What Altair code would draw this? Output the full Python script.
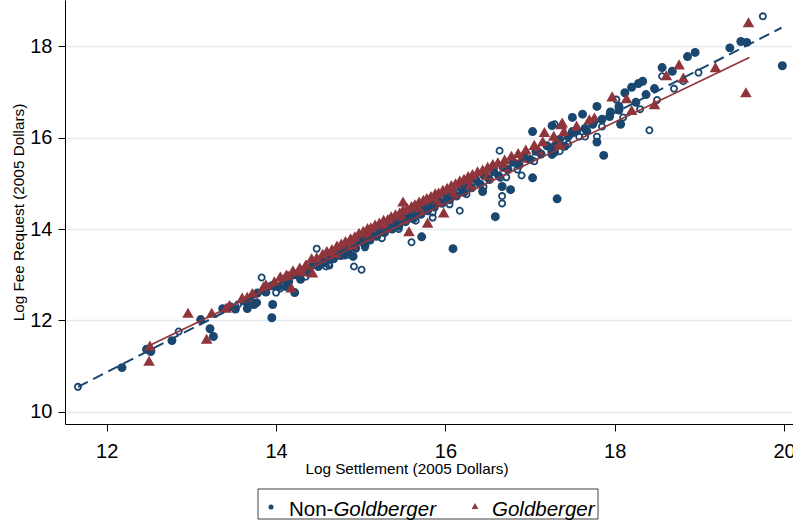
import altair as alt
import pandas as pd

NAVY = "#1a476f"
MAROON = "#90353b"

# ---------------- data ----------------
# Non-Goldberger, filled circles
nong_x = [12.18, 12.47, 12.52, 12.77, 13.11, 13.22, 13.26, 13.37, 13.46, 13.66, 13.74, 13.77,
          13.95, 13.96, 14.12, 14.22, 14.29, 14.81, 14.91, 15.05, 15.72, 16.09, 16.44, 16.59,
          16.67, 16.77, 17.03, 17.32, 17.03, 17.29, 17.26, 17.41, 17.79, 17.87, 17.50, 17.26,
          13.52, 13.63, 13.71, 13.78, 13.88, 13.95, 14.03, 14.08, 14.15, 14.22, 14.27, 14.33,
          14.38, 14.44, 14.50, 14.54, 14.58, 14.63, 14.68, 14.73, 14.76, 14.81, 14.85, 14.90,
          14.94, 14.99, 15.04, 15.07, 15.11, 15.15, 15.19, 15.24, 15.28, 15.33, 15.37, 15.42,
          15.45, 15.50, 15.53, 15.58, 15.62, 15.66, 15.71, 15.75, 15.79, 15.84, 15.87, 15.92,
          15.96, 16.01, 16.05, 16.09, 16.13, 16.18, 16.22, 16.26, 16.31, 16.36, 16.41, 16.46,
          16.52, 16.57, 16.63, 16.68, 16.74, 16.80, 16.87, 16.93, 17.00, 17.07, 17.13, 17.20,
          17.27, 17.35, 17.45, 17.55, 17.65, 17.75, 17.85, 17.95, 18.05,
          18.07, 19.36, 19.49, 19.56, 19.98, 18.95, 18.86, 18.56, 18.68, 18.33, 18.20, 18.28,
          18.47, 18.37, 18.25, 18.12, 18.05, 17.94, 17.79, 17.62, 17.50, 17.74, 17.67]
nong_y = [10.97, 11.37, 11.32, 11.56, 12.02, 11.82, 11.65, 12.26, 12.30, 12.26, 12.35, 12.39,
          12.06, 12.35, 12.74, 12.61, 12.90, 13.43, 13.40, 13.64, 13.83, 13.57, 14.82, 14.27,
          14.93, 14.86, 15.12, 14.66, 16.13, 15.68, 15.63, 15.81, 15.90, 15.61, 16.13, 16.26,
          12.25, 12.42, 12.40, 12.60, 12.62, 12.76, 12.74, 12.90, 12.85, 13.00, 12.98, 13.10,
          13.05, 13.22, 13.18, 13.30, 13.26, 13.38, 13.35, 13.48, 13.42, 13.56, 13.50, 13.66,
          13.58, 13.74, 13.70, 13.84, 13.76, 13.92, 13.84, 13.98, 13.92, 14.06, 14.00, 14.14,
          14.06, 14.24, 14.16, 14.30, 14.22, 14.38, 14.32, 14.46, 14.40, 14.54, 14.48, 14.62,
          14.56, 14.72, 14.64, 14.80, 14.72, 14.90, 14.80, 14.98, 14.90, 15.08, 14.98, 15.16,
          15.08, 15.26, 15.16, 15.36, 15.30, 15.46, 15.40, 15.58, 15.52, 15.70, 15.64, 15.82,
          15.76, 15.96, 16.02, 16.14, 16.20, 16.34, 16.40, 16.56, 16.60,
          16.29, 17.96, 18.10, 18.08, 17.57, 17.86, 17.77, 17.53, 17.45, 17.23, 17.10, 17.18,
          17.07, 16.94, 16.77, 16.98, 16.68, 16.46, 16.68, 16.51, 16.44, 16.29, 16.14]

# Non-Goldberger, hollow circles
hol_x = [11.66, 12.85, 13.55, 13.83, 14.00, 14.48, 14.59, 14.63, 14.92, 15.01, 15.60, 15.85,
         16.17, 16.67, 16.67, 16.64, 16.90, 16.72, 17.29, 17.35, 19.75, 18.99, 18.81, 18.70,
         18.56, 18.02, 17.79, 17.58, 17.50, 18.41,
         13.70, 14.05, 14.35, 14.62, 14.85, 15.05, 15.25, 15.45, 15.65, 15.85, 16.05, 16.25,
         16.45, 16.65, 16.85, 17.05, 17.25, 17.45, 17.65, 17.85, 18.10, 18.30, 18.50]
hol_y = [10.55, 11.76, 12.35, 12.94, 12.61, 13.57, 13.18, 13.20, 13.18, 13.11, 13.71, 14.25,
         14.40, 14.56, 14.72, 15.71, 15.17, 15.13, 16.29, 15.70, 18.65, 17.42, 17.23, 17.07,
         17.34, 16.83, 16.02, 16.02, 16.09, 16.16,
         12.36, 12.70, 12.96, 13.22, 13.44, 13.60, 13.80, 14.00, 14.18, 14.36, 14.54, 14.76,
         14.92, 15.12, 15.30, 15.48, 15.70, 15.86, 16.02, 16.24, 16.44, 16.62, 16.82]

# Goldberger, triangles
gold_x = [12.50, 12.51, 12.96, 13.18, 13.24, 13.41, 13.66, 13.88, 14.14, 14.18, 14.36, 14.43,
          15.50, 15.57, 15.79, 15.98, 17.38,
          19.58, 19.55, 19.19, 18.76, 18.61, 18.81, 17.97, 18.14, 18.20, 18.47, 17.76, 17.37,
          17.17, 17.35,
          13.45, 13.60, 13.72, 13.85, 13.98, 14.05, 14.12, 14.20, 14.28, 14.35, 14.42, 14.48,
          14.55, 14.60, 14.66, 14.72, 14.77, 14.82, 14.88, 14.93, 14.98, 15.03, 15.08, 15.12,
          15.17, 15.22, 15.27, 15.32, 15.36, 15.41, 15.46, 15.50, 15.55, 15.60, 15.64, 15.69,
          15.74, 15.78, 15.83, 15.88, 15.92, 15.97, 16.02, 16.07, 16.12, 16.17, 16.22, 16.27,
          16.32, 16.38, 16.44, 16.50, 16.56, 16.62, 16.70, 16.78, 16.86, 16.95, 17.05, 17.15,
          17.28, 17.40, 17.55, 17.70,
          14.30, 14.70, 14.90, 15.10, 15.30, 15.50, 15.70, 15.90, 16.10, 16.30, 16.50, 16.70,
          16.90, 17.10, 17.30]
gold_y = [11.12, 11.45, 12.17, 11.60, 12.17, 12.28, 12.52, 12.79, 12.99, 12.72, 13.22, 13.05,
          14.60, 13.95, 14.14, 14.36, 16.33,
          18.52, 16.99, 17.54, 17.60, 17.36, 17.31, 16.90, 16.86, 16.60, 16.73, 16.44, 16.29,
          16.12, 15.85,
          12.34, 12.50, 12.60, 12.74, 12.86, 12.96, 13.00, 13.10, 13.16, 13.22, 13.36, 13.38,
          13.46, 13.52, 13.56, 13.64, 13.68, 13.74, 13.80, 13.84, 13.92, 13.96, 14.02, 14.04,
          14.10, 14.14, 14.20, 14.22, 14.28, 14.32, 14.36, 14.42, 14.46, 14.50, 14.54, 14.60,
          14.64, 14.68, 14.72, 14.78, 14.80, 14.86, 14.90, 14.96, 15.00, 15.06, 15.10, 15.16,
          15.20, 15.26, 15.30, 15.36, 15.42, 15.46, 15.52, 15.60, 15.66, 15.74, 15.84, 15.92,
          16.04, 16.14, 16.26, 16.40,
          13.08, 13.48, 13.66, 13.86, 14.04, 14.22, 14.42, 14.62, 14.80, 14.98, 15.18, 15.36,
          15.56, 15.74, 15.92]

# Fitted lines
fit_nong_x = [11.66, 19.97]
fit_nong_y = [10.55, 18.40]
fit_gold_x = [12.51, 19.59]
fit_gold_y = [11.46, 17.75]

x_ticks = [12, 14, 16, 18, 20]
y_ticks = [10, 12, 14, 16, 18]
x_title = "Log Settlement (2005 Dollars)"
y_title = "Log Fee Request (2005 Dollars)"
legend_plain = "Non-"
legend_italic = "Goldberger"

# ---------------- chart ----------------
xs = alt.Scale(domain=[11.507, 20.106], nice=False, zero=False)
ys = alt.Scale(domain=[9.737, 19.007], nice=False, zero=False)

x_axis = alt.Axis(values=x_ticks, grid=False, tickSize=7, labelFontSize=20,
                  labelBaseline="alphabetic", labelPadding=26, labelFlush=False,
                  labelOverlap=False, format="d",
                  title=x_title, titleFontSize=15.3, titleFontWeight="normal",
                  titleBaseline="alphabetic", titleY=49, titleX=341.5)
y_axis = alt.Axis(values=y_ticks, grid=True, gridColor="#e3ebef", gridWidth=1.5,
                  tickSize=7, labelFontSize=20, labelPadding=6, labelFlush=False,
                  labelOverlap=False, format="d",
                  title=y_title, titleFontSize=15.3, titleFontWeight="normal", titlePadding=3)

X = alt.X("x:Q", scale=xs, axis=x_axis)
Y = alt.Y("y:Q", scale=ys, axis=y_axis)

df_f = pd.DataFrame({"x": nong_x, "y": nong_y})
df_h = pd.DataFrame({"x": hol_x, "y": hol_y})
df_g = pd.DataFrame({"x": gold_x, "y": gold_y})
df_ln = pd.DataFrame({"x": fit_nong_x, "y": fit_nong_y})
df_lg = pd.DataFrame({"x": fit_gold_x, "y": fit_gold_y})

filled = alt.Chart(df_f).mark_point(shape="circle", filled=True, size=80, color=NAVY,
                                    opacity=1).encode(x=X, y=Y)
hollow = alt.Chart(df_h).mark_point(shape="circle", filled=False, size=38, color=NAVY,
                                    strokeWidth=1.8, opacity=1).encode(x=X, y=Y)
gold = alt.Chart(df_g).mark_point(shape="triangle-up", filled=True, size=135, color=MAROON,
                                  opacity=1).encode(x=X, y=Y)
line_n = alt.Chart(df_ln).mark_line(color=NAVY, strokeWidth=2, strokeDash=[11, 6]).encode(
    x=X, y=Y)
line_g = alt.Chart(df_lg).mark_line(color=MAROON, strokeWidth=1.7).encode(x=X, y=Y)

# legend (drawn below the plot)
one = pd.DataFrame({"a": [0]})
leg_box = alt.Chart(one).mark_rect(fill="white", stroke="#404040", strokeWidth=1).encode(
    x=alt.value(193), x2=alt.value(533), y=alt.value(489), y2=alt.value(519))
leg_dot = alt.Chart(one).mark_point(shape="circle", filled=True, size=25, color=NAVY,
                                    opacity=1).encode(x=alt.value(206), y=alt.value(507))
leg_tri = alt.Chart(one).mark_point(shape="triangle-up", filled=True, size=45, color=MAROON,
                                    opacity=1).encode(x=alt.value(410), y=alt.value(506))
df_t1 = pd.DataFrame({"t": [legend_plain]})
df_t2 = pd.DataFrame({"t": [legend_italic]})
txt_style = dict(align="left", baseline="alphabetic", fontSize=20.5, font="Liberation Sans",
                 color="black")
leg_t1 = alt.Chart(df_t1).mark_text(**txt_style).encode(
    x=alt.value(224), y=alt.value(515.5), text="t:N")
leg_t2 = alt.Chart(df_t2).mark_text(fontStyle="italic", **txt_style).encode(
    x=alt.value(268.4), y=alt.value(515.5), text="t:N")
leg_t3 = alt.Chart(df_t2).mark_text(fontStyle="italic", **txt_style).encode(
    x=alt.value(427), y=alt.value(515.5), text="t:N")

chart = alt.layer(filled, hollow, gold, line_n, line_g,
                  leg_box, leg_dot, leg_tri, leg_t1, leg_t2, leg_t3).properties(
    width=728, height=424,
    autosize=alt.AutoSizeParams(type="none"),
    padding={"left": 65, "top": 0, "right": 0, "bottom": 105},
).configure_axis(
    labelFont="Liberation Sans", titleFont="Liberation Sans",
    domainColor="black", tickColor="black", labelColor="black", titleColor="black",
    domainWidth=1, tickWidth=1,
).configure_view(strokeWidth=0)

chart.save("out.html", embed_options={"renderer": "svg", "actions": False})
